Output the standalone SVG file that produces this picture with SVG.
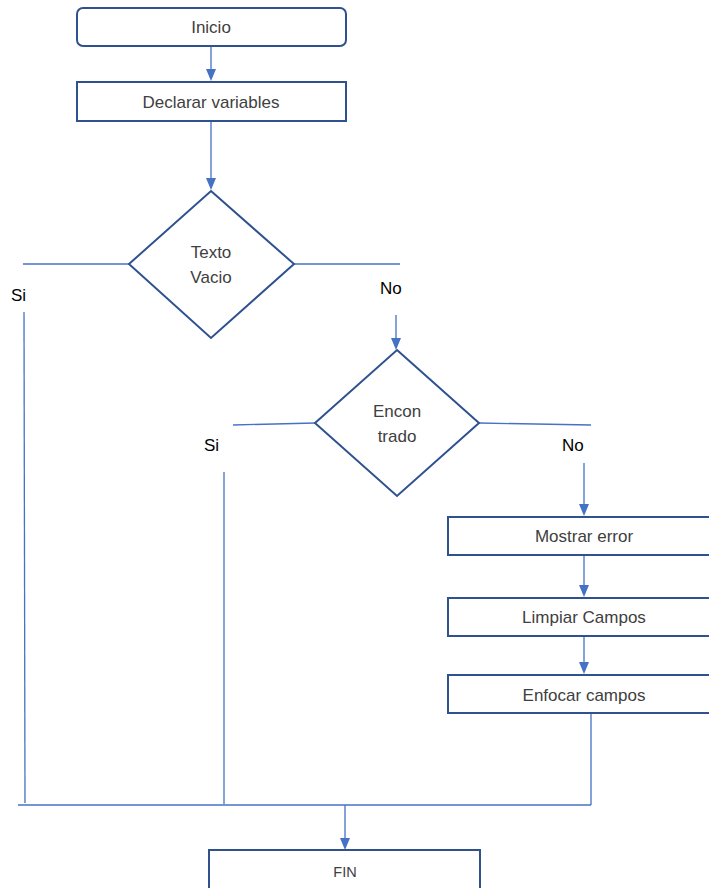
<svg xmlns="http://www.w3.org/2000/svg" width="709" height="888" viewBox="0 0 709 888">
<defs>
<style>
.box{fill:#fff;stroke:#2F528F;stroke-width:2}
.t{font-family:"Liberation Sans",Arial,sans-serif;font-size:17px;fill:#404040;text-anchor:middle}
.lbl{font-family:"Liberation Sans",Arial,sans-serif;font-size:17px;fill:#000}
.ca{fill:none;stroke:#4472C4;stroke-width:1.3}
.ah{fill:#4472C4;stroke:none}
</style>
</defs>
<g id="connectors">
<line class="ca" x1="211" y1="47" x2="211" y2="70"/>
<path class="ah" d="M206,69 L216,69 L211,81 Z"/>
<line class="ca" x1="211" y1="122" x2="211" y2="179"/>
<path class="ah" d="M206,178 L216,178 L211,190 Z"/>
<line class="ca" x1="23" y1="264" x2="129" y2="264"/>
<line class="ca" x1="294" y1="264" x2="400" y2="264"/>
<line class="ca" x1="24" y1="312" x2="25" y2="803"/>
<line class="ca" x1="396" y1="315" x2="396" y2="339"/>
<path class="ah" d="M391,338 L401,338 L396,350 Z"/>
<line class="ca" x1="233" y1="425" x2="315" y2="423"/>
<line class="ca" x1="479" y1="423" x2="591" y2="425"/>
<line class="ca" x1="224" y1="472" x2="224" y2="804"/>
<line class="ca" x1="584" y1="463" x2="584" y2="505"/>
<path class="ah" d="M579,504 L589,504 L584,516 Z"/>
<line class="ca" x1="584" y1="556" x2="584" y2="586"/>
<path class="ah" d="M579,585 L589,585 L584,597 Z"/>
<line class="ca" x1="584" y1="637" x2="584" y2="663"/>
<path class="ah" d="M579,662 L589,662 L584,674 Z"/>
<line class="ca" x1="591" y1="713" x2="591" y2="805"/>
<line class="ca" x1="18" y1="805" x2="591" y2="805"/>
<line class="ca" x1="345" y1="805" x2="345" y2="839"/>
<path class="ah" d="M340,838 L350,838 L345,850 Z"/>
</g>
<g id="inicio">
<rect class="box" x="77" y="8" width="269" height="38" rx="6"/>
<text class="t" x="211" y="33">Inicio</text>
</g>
<g id="declarar">
<rect class="box" x="77" y="82" width="269" height="39"/>
<text class="t" x="211" y="108">Declarar variables</text>
</g>
<g id="textovacio">
<polygon class="box" points="211,191 294,264 211,338 129,264"/>
<text class="t" x="211" y="258">Texto</text>
<text class="t" x="211" y="283">Vacio</text>
</g>
<g id="encontrado">
<polygon class="box" points="397,350 479,423 397,496 315,423"/>
<text class="t" x="397" y="417">Encon</text>
<text class="t" x="397" y="442">trado</text>
</g>
<g id="mostrar">
<rect class="box" x="448" y="517" width="270" height="38"/>
<text class="t" x="584" y="542">Mostrar error</text>
</g>
<g id="limpiar">
<rect class="box" x="448" y="598" width="270" height="38"/>
<text class="t" x="584" y="623">Limpiar Campos</text>
</g>
<g id="enfocar">
<rect class="box" x="448" y="675" width="270" height="38"/>
<text class="t" x="584" y="701">Enfocar campos</text>
</g>
<g id="fin">
<rect class="box" x="209" y="850" width="271" height="45"/>
<text class="t" x="345" y="877" style="font-size:14.5px">FIN</text>
</g>
<g id="labels">
<text class="lbl" x="11" y="301">Si</text>
<text class="lbl" x="380" y="294">No</text>
<text class="lbl" x="204" y="451">Si</text>
<text class="lbl" x="562" y="451">No</text>
</g>
</svg>
